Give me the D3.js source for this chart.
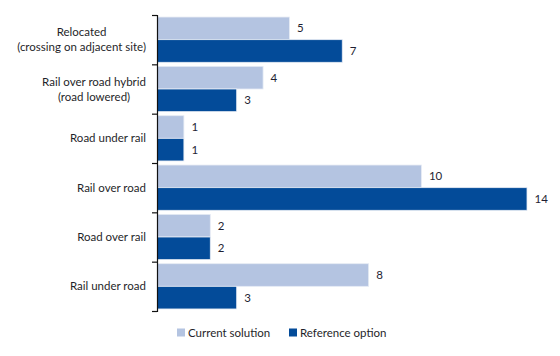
<!DOCTYPE html>
<html><head><meta charset="utf-8">
<script src="https://cdn.jsdelivr.net/npm/d3@7"></script>
<style>body{margin:0;background:#fff}svg{display:block}text{font-family:Lato,"Open Sans",sans-serif}</style>
</head><body><svg id="c" width="560" height="356"></svg>
<script>
const categories = [["Relocated","(crossing on adjacent site)"],["Rail over road hybrid","(road lowered)"],["Road under rail"],["Rail over road"],["Road over rail"],["Rail under road"]];
const currentSolution = [5,4,1,10,2,8];
const referenceOption = [7,3,1,14,2,3];
const seriesNames = ["Current solution","Reference option"];
const colors = ["#b4c4e1","#034b99"];

const fs = 11.5;
const svg = d3.select("#c");
const x0 = 157, yTop = 15, yBot = 311;
const x = d3.scaleLinear().domain([0,14]).range([x0, 526.5]);
const idx = d3.range(categories.length);
const y = d3.scaleBand().domain(idx).range([yTop,yBot]).paddingInner(0).paddingOuter(0);
const inner = d3.scaleBand().domain([0,1]).range([0,y.bandwidth()]).paddingOuter(0.09).paddingInner(0);

const series = [currentSolution, referenceOption];
series.forEach((vals,s)=>{
  svg.append("g").selectAll("rect").data(vals).join("rect")
    .attr("x", x(0)+0.5)
    .attr("y",(d,i)=>y(i)+inner(s))
    .attr("width",d=>x(d)-x(0))
    .attr("height",inner.bandwidth())
    .attr("fill",colors[s])
    .attr("stroke","#e6ebf4").attr("stroke-width",0.8);
  svg.append("g").selectAll("text").data(vals).join("text")
    .attr("x",d=>x(d)+8)
    .attr("y",(d,i)=>y(i)+inner(s)+inner.bandwidth()/2)
    .attr("dy","0.35em")
    .attr("font-size",fs).attr("fill","#1f1f33")
    .text(d=>d);
});

// axis with ticks at band boundaries
const yb = d3.scaleLinear().domain([0,categories.length]).range([yTop,yBot]);
const ax = svg.append("g").attr("transform",`translate(${x0},0)`)
  .call(d3.axisLeft(yb).ticks(categories.length).tickSize(5).tickSizeOuter(5).tickFormat(""));
ax.selectAll("path,line").attr("stroke","#111").attr("stroke-width",1.2);

// category labels
categories.forEach((lines,i)=>{
  const g = svg.append("g");
  const cy = y(i)+y.bandwidth()/2;
  const lh = 15;
  const ts = lines.map((l,j)=>g.append("text")
    .attr("y", cy + (j-(lines.length-1)/2)*lh).attr("dy","0.35em")
    .attr("font-size",fs).attr("fill","#1f1f2a").attr("text-anchor","middle").text(l));
  const w = d3.max(ts,t=>t.node().getComputedTextLength());
  ts.forEach(t=>t.attr("x",146-w/2));
});

// legend
const leg = svg.append("g");
const lx = [177,289];
seriesNames.forEach((n,s)=>{
  leg.append("rect").attr("x",lx[s]).attr("y",328.5).attr("width",8).attr("height",8).attr("fill",colors[s]);
  leg.append("text").attr("x",lx[s]+11).attr("y",333).attr("dy","0.35em").attr("font-size",fs).attr("fill","#1f1f2a").text(n);
});
</script></body></html>
